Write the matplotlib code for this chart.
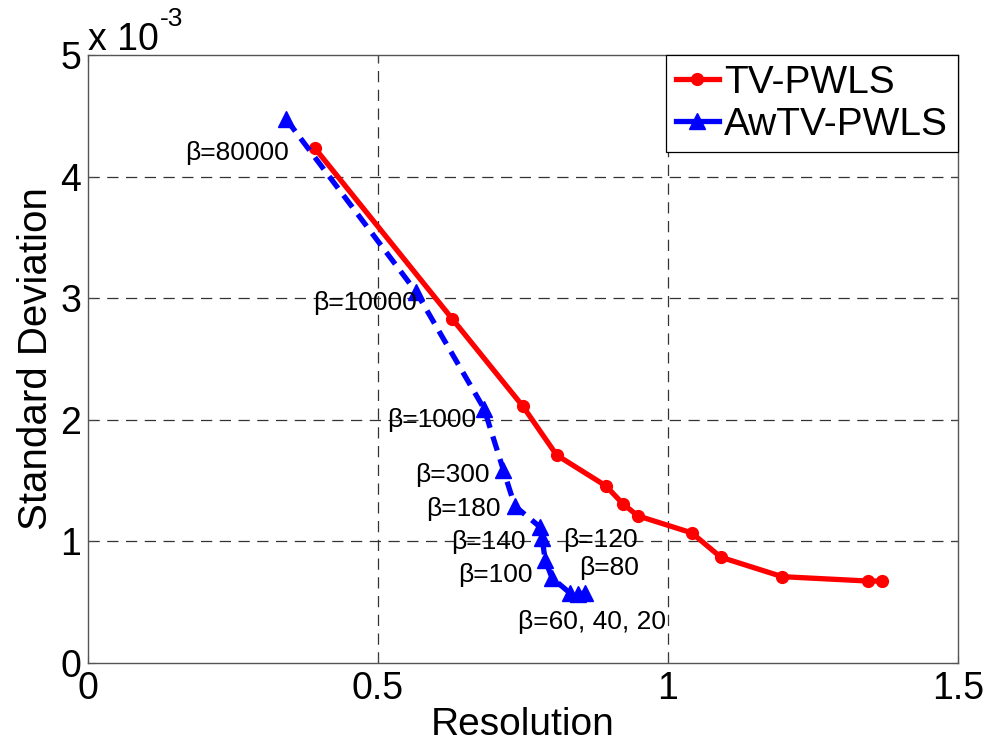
import matplotlib
matplotlib.use("Agg")
import matplotlib.pyplot as plt
from matplotlib.ticker import FuncFormatter

plt.rcParams['font.family'] = ['Liberation Sans', 'DejaVu Sans']

# ---- data ----
tv_res = [0.391, 0.628, 0.750, 0.808, 0.893, 0.922, 0.948, 1.041, 1.091, 1.197, 1.345, 1.369]
tv_std = [4.235e-3, 2.83e-3, 2.11e-3, 1.71e-3, 1.456e-3, 1.31e-3, 1.21e-3, 1.07e-3, 0.87e-3, 0.71e-3, 0.674e-3, 0.674e-3]

aw_res = [0.342, 0.566, 0.683, 0.716, 0.736, 0.779, 0.783, 0.788, 0.800, 0.831, 0.845, 0.857]
aw_std = [4.47e-3, 3.05e-3, 2.09e-3, 1.59e-3, 1.29e-3, 1.12e-3, 1.03e-3, 0.85e-3, 0.70e-3, 0.575e-3, 0.57e-3, 0.575e-3]

beta_labels = ['β=80000', 'β=10000', 'β=1000', 'β=300', 'β=180', 'β=140',
               'β=120', 'β=100', 'β=80', 'β=60, 40, 20']
beta_label_xy = [(0.257, 4.19e-3), (0.478, 2.96e-3), (0.593, 2.00e-3), (0.628, 1.55e-3),
                 (0.647, 1.27e-3), (0.690, 0.995e-3), (0.883, 1.01e-3), (0.702, 0.72e-3),
                 (0.898, 0.78e-3), (0.869, 0.337e-3)]

x_ticks = [0, 0.5, 1, 1.5]
y_ticks = [0, 1e-3, 2e-3, 3e-3, 4e-3, 5e-3]

# ---- figure ----
fig = plt.figure(figsize=(9.95, 7.51), dpi=100)
ax = fig.add_axes([88/995, (751-663)/751, (958-88)/995, (663-55)/751])

ax.plot(tv_res, tv_std, color='#ff0000', lw=3.8, marker='o', markersize=8.5,
        label='TV-PWLS', zorder=3)
ax.plot(aw_res, aw_std, color='#0000ff', lw=3.8, ls=(0, (2.8, 1.7)), marker='^',
        markersize=11, label='AwTV-PWLS', zorder=4)

for s, (x, y) in zip(beta_labels, beta_label_xy):
    ax.text(x, y, s, fontsize=19, ha='center', va='center', color='black', zorder=5)

ax.set_xlim(0, 1.5)
ax.set_ylim(0, 5e-3)
ax.set_xticks(x_ticks)
ax.set_yticks(y_ticks)
ax.xaxis.set_major_formatter(FuncFormatter(lambda v, p: '%g' % v))
ax.yaxis.set_major_formatter(FuncFormatter(lambda v, p: '%g' % round(v / 1e-3, 6)))
ax.tick_params(direction='in', length=5, width=0.8, labelsize=27, color='#444444',
               top=True, right=True)
ax.tick_params(axis='x', pad=6)
ax.tick_params(axis='y', pad=5)
for sp in ax.spines.values():
    sp.set_color('#555555')
    sp.set_linewidth(1.0)

# grid: dashed at interior ticks
for gx in x_ticks[1:-1]:
    ax.axvline(gx, color='#333333', lw=0.9, ls=(0, (9, 6)), zorder=1)
for gy in y_ticks[1:-1]:
    ax.axhline(gy, color='#333333', lw=0.9, ls=(0, (9, 6)), zorder=1)

ax.set_xlabel('Resolution', fontsize=28, labelpad=0)
ax.set_ylabel('Standard Deviation', fontsize=29, labelpad=4)

leg = ax.legend(loc='upper right', borderaxespad=0, fontsize=28, handlelength=1.1,
                handletextpad=0.15, labelspacing=0.15, borderpad=0.25, numpoints=1,
                fancybox=False, framealpha=1, edgecolor='black')
leg.get_frame().set_linewidth(0.9)
for ln in leg.get_lines():
    ln.set_linestyle('-')

# exponent text
fig.text(88/995, 1 - 50/751, 'x 10', fontsize=27, ha='left', va='baseline')
fig.text(160/995, 1 - 26/751, '-3', fontsize=19, ha='left', va='baseline')

fig.savefig('out.png', dpi=100)
